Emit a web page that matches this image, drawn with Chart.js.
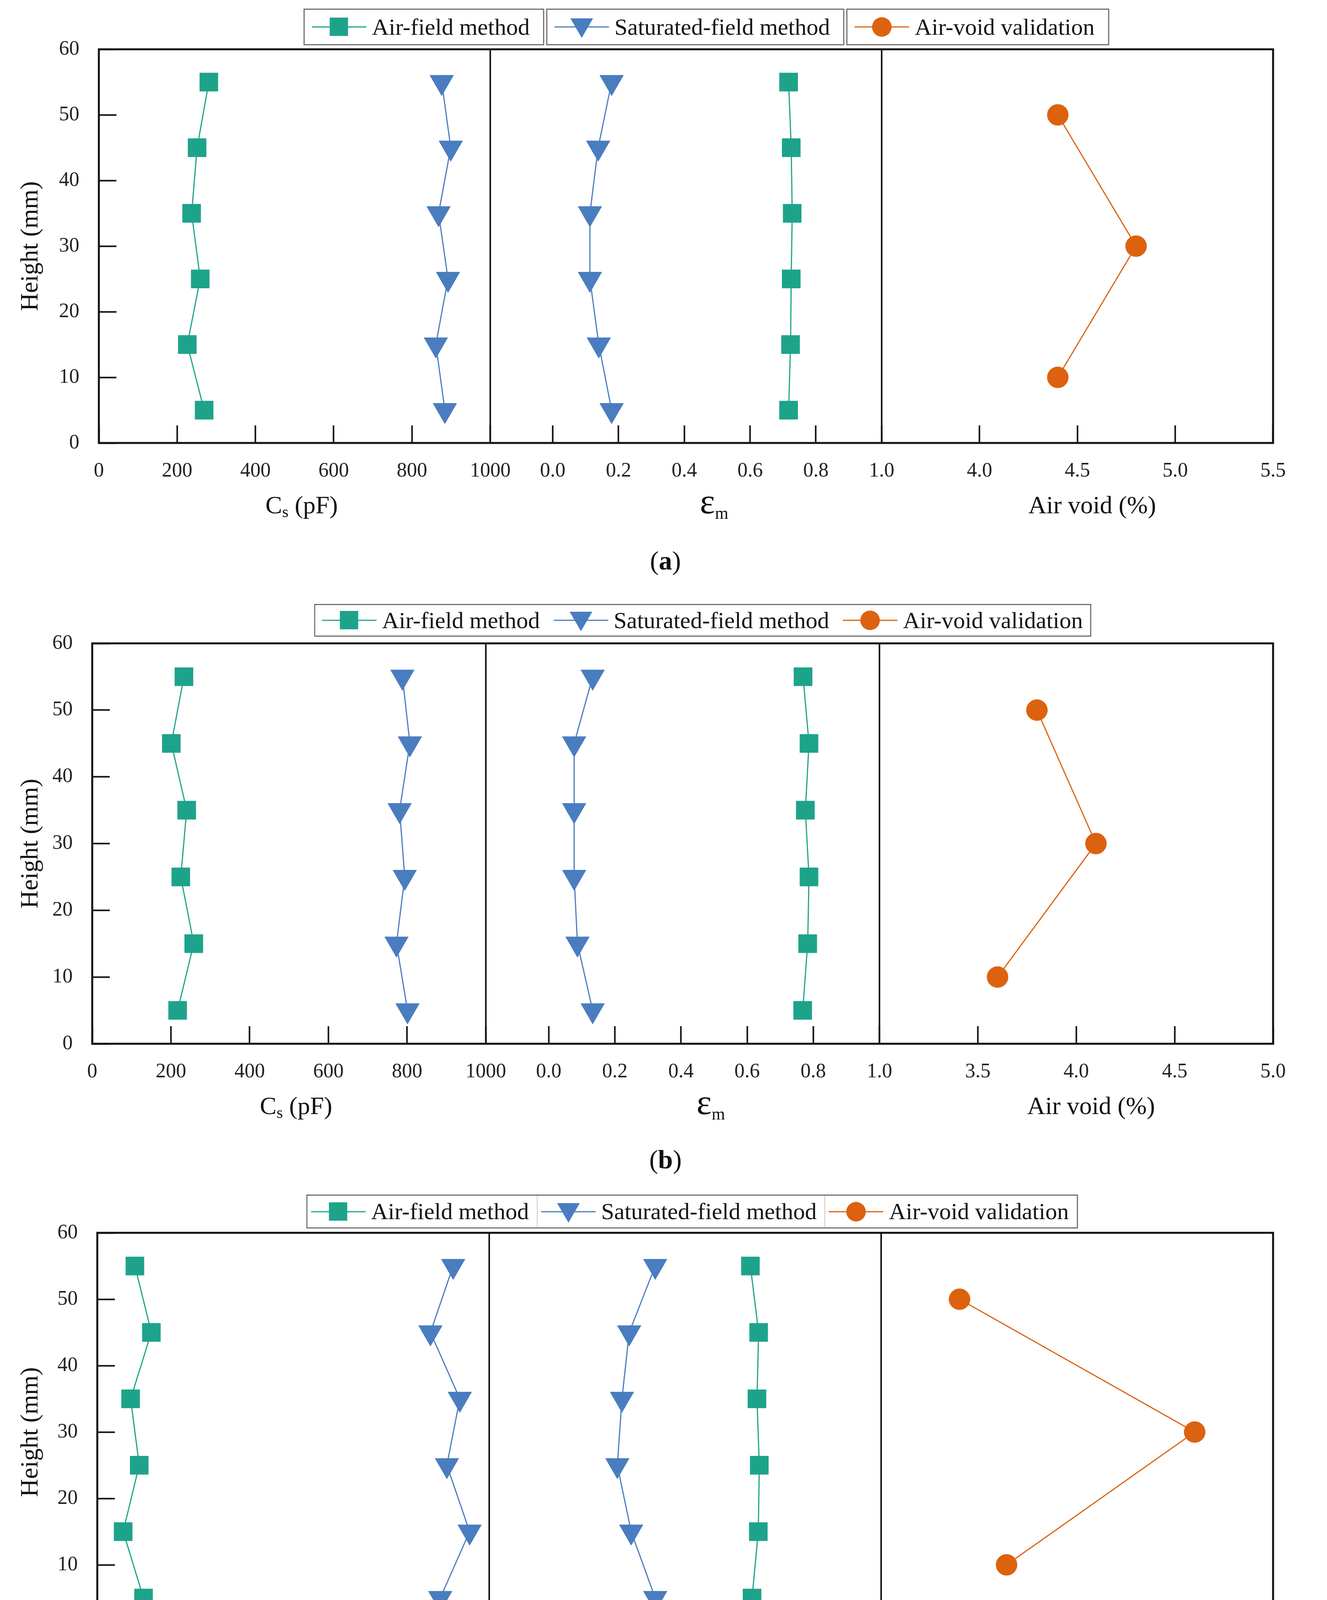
<!DOCTYPE html>
<html>
<head>
<meta charset="utf-8">
<script src="https://cdn.jsdelivr.net/npm/chart.js@4.4.1/dist/chart.umd.min.js"></script>
<style>
  html, body { margin: 0; padding: 0; background: #fff; }
  #page { position: relative; width: 3396px; height: 4534px; background: #fff;
          font-family: 'Liberation Serif', 'DejaVu Serif', serif; color: #111; }
  #page canvas { position: absolute; left: 0; }
  .legend { position: absolute; display: flex; transform: translateX(-50%); box-sizing: border-box; }
  .legend .item { display: flex; align-items: center; box-sizing: border-box; height: 100%;
                  font-size: 60px; white-space: nowrap; color: #151515; }
  .legend .item svg { margin-right: 14px; }
  .legend.split .item { border: 3px solid #707070; margin-right: 5px; background: #fff; }
  .legend.joined { border: 3px solid #707070; background: #fff; }
  .legend.ruled .item + .item { border-left: 2px solid #c8c8c8; }
  .caption { position: absolute; font-size: 68px; transform: translate(-50%, -50%); color: #111; }
</style>
</head>
<body>
<div id="page"></div>
<script>
// heights of the measured slices (mm)
const heights = [5, 15, 25, 35, 45, 55];
const voidHeights = [10, 30, 50];

// tick labels
const yTicks = [0, 10, 20, 30, 40, 50, 60];
const csTicks = [0, 200, 400, 600, 800, 1000];
const emTicks = [0.0, 0.2, 0.4, 0.6, 0.8, 1.0];
const voidTicksA = [4.0, 4.5, 5.0, 5.5];
const voidTicksB = [3.5, 4.0, 4.5, 5.0];
const voidTicksC = [15.5, 16.0, 16.5, 17.0, 17.5];

const seriesNames = ['Air-field method', 'Saturated-field method', 'Air-void validation'];

// panel (a)
const csAirA = [269, 226, 259, 237, 251, 281];
const csSatA = [884, 861, 892, 868, 899, 876];
const emSatA = [0.179, 0.140, 0.113, 0.113, 0.138, 0.179];
const emAirA = [0.717, 0.723, 0.725, 0.728, 0.725, 0.717];
const voidA = [4.4, 4.8, 4.4];

// panel (b)
const csAirB = [217, 258, 225, 240, 201, 233];
const csSatB = [801, 773, 794, 781, 807, 788];
const emSatB = [0.133, 0.087, 0.077, 0.077, 0.077, 0.133];
const emAirB = [0.768, 0.783, 0.787, 0.776, 0.787, 0.769];
const voidB = [3.6, 4.1, 3.8];

// panel (c)
const csAirC = [118, 66, 107, 85, 138, 96];
const csSatC = [875, 950, 892, 925, 850, 908];
const emSatC = [0.314, 0.241, 0.199, 0.213, 0.235, 0.314];
const emAirC = [0.608, 0.627, 0.630, 0.623, 0.628, 0.603];
const voidC = [15.8, 17.0, 15.5];

const FONT = "'Liberation Serif', 'DejaVu Serif', serif";
const COL_AIR = '#1ea38b';
const COL_SAT = '#4a7dbf';
const COL_VOID = '#dc620f';
const X_AXIS_H = 220;

const markAir = { shape: 'rect', r: 33, rot: 0 };
const markSat = { shape: 'triangle', r: 35, rot: 180 };
const markVoid = { shape: 'circle', r: 27, rot: 0 };

// x-axis titles: main text, subscript, rest; shift = offset from the sub-plot centre
const xTitles = [
  { axis: 'x1', main: 'C', sub: 's', rest: ' (pF)', size: 64, subSize: 42, subDrop: 10, shift: 18 },
  { axis: 'x2', main: '\u03B5', sub: 'm', rest: '', size: 92, subSize: 44, subDrop: 14, shift: 72 },
  { axis: 'x3', main: 'Air void (%)', sub: '', rest: '', size: 64, subSize: 42, subDrop: 0, shift: 38 }
];

const panels = [
  { id: 'a', top: 0, plotTop: 125, plotBottom: 1134, left: 253, right: 3320,
    voidRange: [3.5, 5.5], voidTicks: voidTicksA,
    cs: [csAirA, csSatA], em: [emSatA, emAirA], voids: voidA,
    legend: { cls: 'split', center: 1810, top: 22, height: 94, padL: 18, padR: 34 },
    caption: { x: 1703, y: 1435 } },
  { id: 'b', top: 1400, plotTop: 1647, plotBottom: 2672, left: 236, right: 3341,
    voidRange: [3.0, 5.0], voidTicks: voidTicksB,
    cs: [csAirB, csSatB], em: [emSatB, emAirB], voids: voidB,
    legend: { cls: 'joined', center: 1798, top: 1546, height: 84, padL: 17, padR: 18 },
    caption: { x: 1703, y: 2968 } },
  { id: 'c', top: 2900, plotTop: 3156, plotBottom: 4176, left: 249, right: 3322,
    voidRange: [15.0, 17.5], voidTicks: voidTicksC,
    cs: [csAirC, csSatC], em: [emSatC, emAirC], voids: voidC,
    legend: { cls: 'joined ruled', center: 1771, top: 3058, height: 87, padL: 9, padR: 20 },
    caption: { x: 1703, y: 4474 } }
];

function pts(xs, ys) {
  return xs.map((v, i) => ({ x: v, y: ys[i] }));
}

function series(label, xs, ys, axis, color, mark) {
  return {
    label, data: pts(xs, ys), xAxisID: axis, yAxisID: 'y',
    showLine: true, tension: 0, borderColor: color, backgroundColor: color, borderWidth: 3,
    pointStyle: mark.shape, pointRadius: mark.r, pointHoverRadius: mark.r,
    pointRotation: mark.rot, pointBorderWidth: 1, pointBorderColor: color, pointBackgroundColor: color
  };
}

const tickFont = { family: FONT, size: 52 };
const titleFont = { family: FONT, size: 64 };
const gridOpts = { display: true, drawOnChartArea: false, drawTicks: true, tickLength: -45,
                   tickColor: '#111', tickWidth: 4, color: '#111' };

function xScale(min, max, ticks, decimals) {
  return {
    type: 'linear', axis: 'x', position: 'bottom', stack: 'cols', stackWeight: 1, min, max,
    afterBuildTicks: s => { s.ticks = ticks.map(v => ({ value: v })); },
    afterFit: s => { s.height = X_AXIS_H; },
    ticks: { autoSkip: false, maxRotation: 0, minRotation: 0, padding: 86, color: '#222',
             font: tickFont, callback: v => Number(v).toFixed(decimals) },
    grid: gridOpts,
    border: { display: false },
    title: { display: false }
  };
}

// box round the plot and the two dividers between the sub-plots
const framePlugin = {
  id: 'frame',
  afterDraw(chart) {
    const { ctx, chartArea: a, scales } = chart;
    ctx.save();
    ctx.strokeStyle = '#111';
    ctx.lineWidth = 4;
    ['x2', 'x3'].forEach(id => {
      const s = scales[id];
      ctx.beginPath();
      ctx.moveTo(s.left, a.top);
      ctx.lineTo(s.left, a.bottom);
      ctx.stroke();
    });
    ctx.lineWidth = 5;
    ctx.strokeRect(a.left, a.top, a.right - a.left, a.bottom - a.top);
    ctx.restore();
  }
};

// x titles with a real subscript
const xTitlePlugin = {
  id: 'xTitles',
  afterDraw(chart) {
    const { ctx, chartArea: a, scales } = chart;
    ctx.save();
    ctx.fillStyle = '#111';
    ctx.textBaseline = 'alphabetic';
    ctx.textAlign = 'left';
    xTitles.forEach(t => {
      const s = scales[t.axis];
      const mainFont = t.size + 'px ' + FONT;
      const subFont = t.subSize + 'px ' + FONT;
      ctx.font = mainFont;
      const w1 = ctx.measureText(t.main).width;
      const w3 = ctx.measureText(t.rest).width;
      ctx.font = subFont;
      const w2 = t.sub ? ctx.measureText(t.sub).width : 0;
      const base = a.bottom + 180;
      let x = (s.left + s.right) / 2 + t.shift - (w1 + w2 + w3) / 2;
      ctx.font = mainFont;
      ctx.fillText(t.main, x, base);
      x += w1;
      if (t.sub) {
        ctx.font = subFont;
        ctx.fillText(t.sub, x, base + t.subDrop);
        x += w2;
      }
      if (t.rest) {
        ctx.font = mainFont;
        ctx.fillText(t.rest, x, base);
      }
    });
    ctx.restore();
  }
};

function legendIcon(color, mark) {
  let shape = '';
  if (mark.shape === 'rect') shape = `<rect x="46" y="6" width="47" height="47" fill="${color}"/>`;
  if (mark.shape === 'triangle') shape = `<polygon points="41,8 99,8 70,58" fill="${color}"/>`;
  if (mark.shape === 'circle') shape = `<circle cx="70" cy="30" r="25" fill="${color}"/>`;
  return `<svg width="140" height="60" viewBox="0 0 140 60"><line x1="0" y1="30" x2="140" y2="30" stroke="${color}" stroke-width="3"/>${shape}</svg>`;
}

const page = document.getElementById('page');

panels.forEach(p => {
  const canvas = document.createElement('canvas');
  const h = p.plotBottom - p.top + X_AXIS_H;
  canvas.width = 3396;
  canvas.height = h;
  canvas.style.top = p.top + 'px';
  canvas.style.width = '3396px';
  canvas.style.height = h + 'px';
  page.appendChild(canvas);

  const datasets = [
    series(seriesNames[0], p.cs[0], heights, 'x1', COL_AIR, markAir),
    series(seriesNames[1], p.cs[1], heights, 'x1', COL_SAT, markSat),
    series(seriesNames[1], p.em[0], heights, 'x2', COL_SAT, markSat),
    series(seriesNames[0], p.em[1], heights, 'x2', COL_AIR, markAir),
    series(seriesNames[2], p.voids, voidHeights, 'x3', COL_VOID, markVoid)
  ];

  new Chart(canvas.getContext('2d'), {
    type: 'scatter',
    data: { datasets },
    options: {
      responsive: false, animation: false, devicePixelRatio: 1,
      layout: { padding: { top: p.plotTop - p.top, left: 0, right: 3396 - p.right, bottom: 0 } },
      plugins: { legend: { display: false }, tooltip: { enabled: false } },
      scales: {
        x1: xScale(0, 1000, csTicks, 0),
        x2: xScale(-0.19, 1.0, emTicks, 1),
        x3: xScale(p.voidRange[0], p.voidRange[1], p.voidTicks, 1),
        y: {
          type: 'linear', position: 'left', min: 0, max: 60,
          afterBuildTicks: s => { s.ticks = yTicks.map(v => ({ value: v })); },
          afterFit: s => { s.width = p.left; },
          ticks: { padding: 95, color: '#222', font: tickFont },
          grid: gridOpts,
          border: { display: false },
          title: { display: true, text: 'Height (mm)', color: '#111', font: titleFont, padding: { top: 41, bottom: 0 } }
        }
      }
    },
    plugins: [framePlugin, xTitlePlugin]
  });

  // legend
  const lg = document.createElement('div');
  lg.className = 'legend ' + p.legend.cls;
  lg.style.left = p.legend.center + 'px';
  lg.style.top = p.legend.top + 'px';
  lg.style.height = p.legend.height + 'px';
  const icons = [[COL_AIR, markAir], [COL_SAT, markSat], [COL_VOID, markVoid]];
  seriesNames.forEach((name, i) => {
    const it = document.createElement('div');
    it.className = 'item';
    it.style.paddingLeft = p.legend.padL + 'px';
    it.style.paddingRight = p.legend.padR + 'px';
    it.innerHTML = legendIcon(icons[i][0], icons[i][1]) + '<span>' + name + '</span>';
    lg.appendChild(it);
  });
  page.appendChild(lg);

  const cap = document.createElement('div');
  cap.className = 'caption';
  cap.style.left = p.caption.x + 'px';
  cap.style.top = p.caption.y + 'px';
  cap.innerHTML = '(<b>' + p.id + '</b>)';
  page.appendChild(cap);
});
</script>
</body>
</html>
